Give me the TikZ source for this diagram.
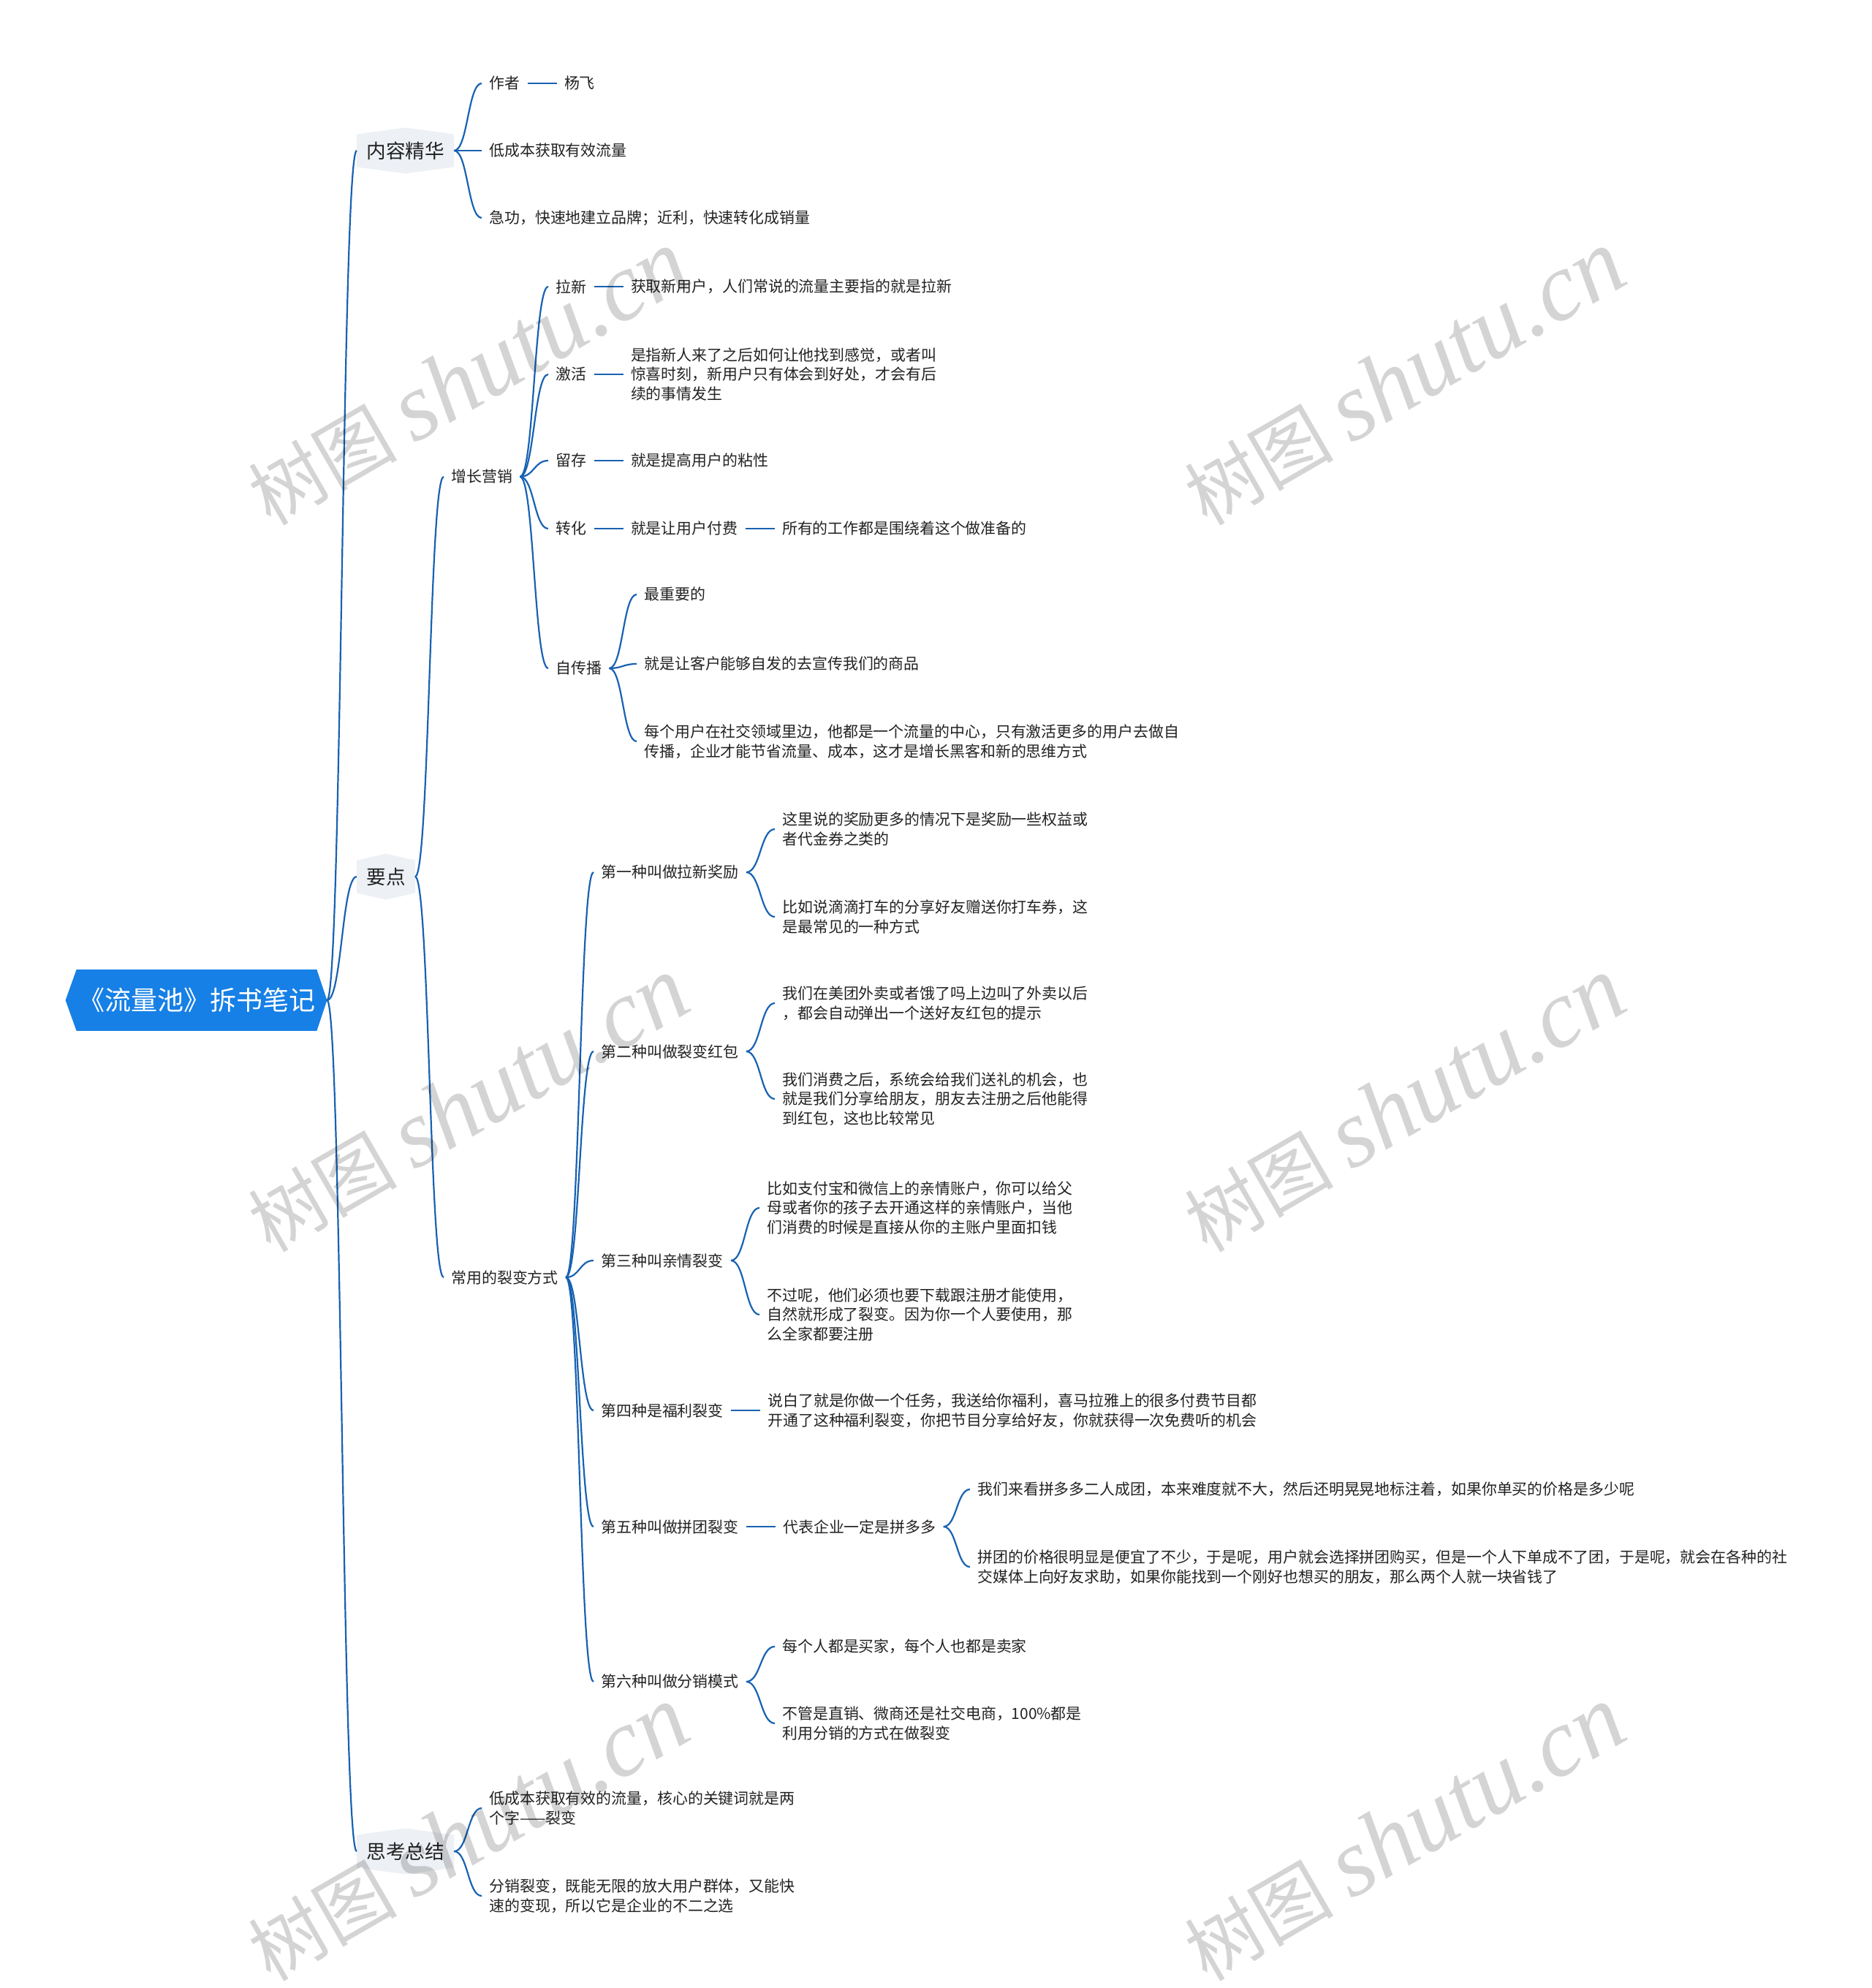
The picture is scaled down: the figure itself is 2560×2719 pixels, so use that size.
\documentclass[tikz,border=0pt]{standalone}
\usepackage{fontspec}
\setmainfont{Noto Sans CJK SC}
\newfontfamily\wmfont{Liberation Serif}
\usetikzlibrary{positioning,calc,backgrounds}

\definecolor{linkblue}{RGB}{24,98,178}
\definecolor{rootblue}{RGB}{22,128,230}
\definecolor{hexgray}{RGB}{237,240,245}
\definecolor{txt}{RGB}{34,34,34}

% grey hexagon behind a branch title, pointed at top and bottom
\newcommand\hexback[2]{\fill[hexgray] (#1.south west) -- (#1.north west) -- ([yshift=#2]#1.north)
   -- (#1.north east) -- (#1.south east) -- ([yshift=-#2]#1.south) -- cycle;}
% blue box of the central topic, pointed left and right
\newcommand\rootback[1]{\fill[rootblue] (#1.north west) -- (#1.north east) -- ([xshift=7pt]#1.east)
   -- (#1.south east) -- (#1.south west) -- ([xshift=-7.5pt]#1.west) -- cycle;}

\begin{document}
\begin{tikzpicture}[x=0.5pt,y=-0.5pt]
   \tikzstyle{every node}=[font=\fontsize{10.45}{13.3}\selectfont,text=txt,inner xsep=5pt,inner ysep=2pt,align=left,anchor=west]
   \tikzstyle{central}=[anchor=center,text=white,font=\fontsize{18}{21}\selectfont,minimum width=164pt,minimum height=41.5pt,inner sep=0pt]
   \tikzstyle{branch}=[font=\fontsize{13.3}{16}\selectfont,inner xsep=6.5pt,inner ysep=0pt,minimum height=22pt]
   \tikzstyle{link}=[draw=linkblue,line width=1.1pt,to path={let \p1=(\tikztostart), \p2=(\tikztotarget) in
      .. controls ({(\x1+\x2)/2},\y1) and ({(\x1+\x2)/2},\y2) .. (\tikztotarget)}]
   \tikzstyle{stub}=[draw=linkblue,line width=1.1pt]
   \tikzstyle{wmark}=[anchor=center,rotate=30,text=black,text opacity=0.17,font=\fontsize{51}{60}\selectfont]

   \useasboundingbox (0,0) rectangle (2560,2719);

   \node[central] (root) at (269,1368) {《流量池》拆书笔记};
   \coordinate (rootpt) at ([xshift=7pt]root.east);

   \node[branch] (jinghua) at (488,206) {内容精华};
   \node[branch] (yaodian) at (488,1199) {要点};
   \node[branch] (zongjie) at (488,2532) {思考总结};

   % 内容精华
   \node (zuozhe) at (659,114) {作者};
   \node (yangfei) [right=20pt of zuozhe] {杨飞};
   \node (dichengben) at (659,206) {低成本获取有效流量};
   \node (jigong) at (659,298) {急功，快速地建立品牌；近利，快速转化成销量};

   % 要点
   \node (zengzhang) at (607,652) {增长营销};
   \node (laxin) at (750,392) {拉新};
   \node (laxinD) [right=20pt of laxin] {获取新用户，人们常说的流量主要指的就是拉新};
   \node (jihuo) at (750,512) {激活};
   \node (jihuoD) [right=20pt of jihuo] {是指新人来了之后如何让他找到感觉，或者叫\\惊喜时刻，新用户只有体会到好处，才会有后\\续的事情发生};
   \node (liucun) at (750,630) {留存};
   \node (liucunD) [right=20pt of liucun] {就是提高用户的粘性};
   \node (zhuanhua) at (750,723) {转化};
   \node (zhuanhuaD) [right=20pt of zhuanhua] {就是让用户付费};
   \node (zhuanhuaE) [right=20pt of zhuanhuaD] {所有的工作都是围绕着这个做准备的};
   \node (zichuanbo) at (750,914) {自传播};
   \node (zcbA) at (871,813) {最重要的};
   \node (zcbB) at (871,908) {就是让客户能够自发的去宣传我们的商品};
   \node (zcbC) at (871,1014) {每个用户在社交领域里边，他都是一个流量的中心，只有激活更多的用户去做自\\传播，企业才能节省流量、成本，这才是增长黑客和新的思维方式};

   \node (liebian) at (607,1747) {常用的裂变方式};
   \node (zhong1) at (812,1193) {第一种叫做拉新奖励};
   \node (z1a) at (1060,1134) {这里说的奖励更多的情况下是奖励一些权益或\\者代金券之类的};
   \node (z1b) at (1060,1254) {比如说滴滴打车的分享好友赠送你打车券，这\\是最常见的一种方式};
   \node (zhong2) at (812,1438) {第二种叫做裂变红包};
   \node (z2a) at (1060,1372) {我们在美团外卖或者饿了吗上边叫了外卖以后\\，都会自动弹出一个送好友红包的提示};
   \node (z2b) at (1060,1503) {我们消费之后，系统会给我们送礼的机会，也\\就是我们分享给朋友，朋友去注册之后他能得\\到红包，这也比较常见};
   \node (zhong3) at (812,1724) {第三种叫亲情裂变};
   \node (z3a) at (1039,1652) {比如支付宝和微信上的亲情账户，你可以给父\\母或者你的孩子去开通这样的亲情账户，当他\\们消费的时候是直接从你的主账户里面扣钱};
   \node (z3b) at (1039,1798) {不过呢，他们必须也要下载跟注册才能使用，\\自然就形成了裂变。因为你一个人要使用，那\\么全家都要注册};
   \node (zhong4) at (812,1929) {第四种是福利裂变};
   \node (z4a) [right=20pt of zhong4] {说白了就是你做一个任务，我送给你福利，喜马拉雅上的很多付费节目都\\开通了这种福利裂变，你把节目分享给好友，你就获得一次免费听的机会};
   \node (zhong5) at (812,2088) {第五种叫做拼团裂变};
   \node (z5a) [right=20pt of zhong5] {代表企业一定是拼多多};
   \node (z5b) at (1327,2037) {我们来看拼多多二人成团，本来难度就不大，然后还明晃晃地标注着，如果你单买的价格是多少呢};
   \node (z5c) at (1327,2143) {拼团的价格很明显是便宜了不少，于是呢，用户就会选择拼团购买，但是一个人下单成不了团，于是呢，就会在各种的社\\交媒体上向好友求助，如果你能找到一个刚好也想买的朋友，那么两个人就一块省钱了};
   \node (zhong6) at (812,2300) {第六种叫做分销模式};
   \node (z6a) at (1060,2252) {每个人都是买家，每个人也都是卖家};
   \node (z6b) at (1060,2357) {不管是直销、微商还是社交电商，100\%都是\\利用分销的方式在做裂变};

   % 思考总结
   \node (zjA) at (659,2473) {低成本获取有效的流量，核心的关键词就是两\\个字——裂变};
   \node (zjB) at (659,2593) {分销裂变，既能无限的放大用户群体，又能快\\速的变现，所以它是企业的不二之选};

   \begin{scope}[on background layer]
      \fill[white] (0,0) rectangle (2560,2719);
      \rootback{root}
      \hexback{jinghua}{4.5pt}
      \hexback{yaodian}{4.5pt}
      \hexback{zongjie}{4.5pt}
   \end{scope}

   % curved branches
   \foreach \kid in {jinghua,yaodian,zongjie} \draw [link] (rootpt) to (\kid.west);
   \foreach \kid in {zuozhe,dichengben,jigong} \draw [link] (jinghua.east) to (\kid.west);
   \foreach \kid in {zengzhang,liebian} \draw [link] (yaodian.east) to (\kid.west);
   \foreach \kid in {laxin,jihuo,liucun,zhuanhua,zichuanbo} \draw [link] (zengzhang.east) to (\kid.west);
   \foreach \kid in {zcbA,zcbB,zcbC} \draw [link] (zichuanbo.east) to (\kid.west);
   \foreach \kid in {zhong1,zhong2,zhong3,zhong4,zhong5,zhong6} \draw [link] (liebian.east) to (\kid.west);
   \foreach \up/\kid in {zhong1/z1a,zhong1/z1b,zhong2/z2a,zhong2/z2b,zhong3/z3a,zhong3/z3b,z5a/z5b,z5a/z5c,zhong6/z6a,zhong6/z6b,zongjie/zjA,zongjie/zjB}
      \draw [link] (\up.east) to (\kid.west);

   % short straight links
   \foreach \up/\kid in {zuozhe/yangfei,laxin/laxinD,jihuo/jihuoD,liucun/liucunD,zhuanhua/zhuanhuaD,zhuanhuaD/zhuanhuaE,zhong4/z4a,zhong5/z5a}
      \draw [stub] (\up.east) -- (\kid.west);

   % watermark
   \foreach \wx in {640,1921}
      \foreach \wy in {517,1511,2508}
         \node[wmark] (wm\wx\wy) at (\wx,\wy) {树图 {\wmfont\itshape\fontsize{66}{70}\selectfont shutu.cn}};
\end{tikzpicture}
\end{document}
